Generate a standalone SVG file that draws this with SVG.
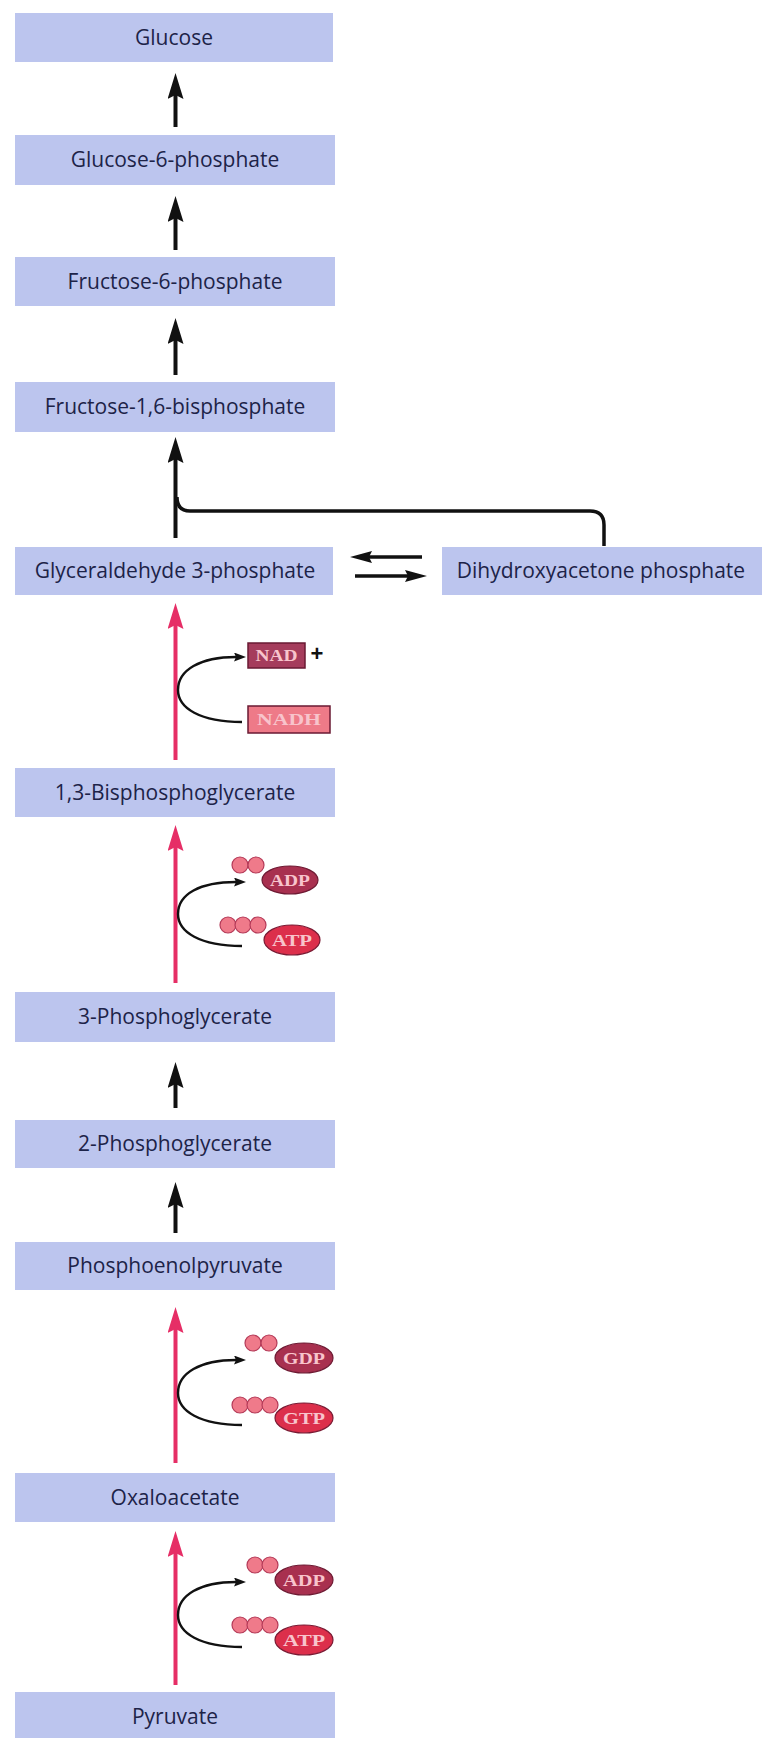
<svg xmlns="http://www.w3.org/2000/svg" width="766" height="1738" viewBox="0 0 766 1738">
  <style>
    .box { fill: #bcc5ee; }
    .lbl { font-family: "Open Sans", "Noto Sans", sans-serif; font-size: 21px; fill: #1d2348; text-anchor: middle; }
    .step { stroke: #111; stroke-width: 4; fill: none; }
    .pink { stroke: #e62e66; stroke-width: 4; fill: none; }
    .curve { stroke: #111; stroke-width: 2.4; fill: none; }
    .eq { stroke: #111; stroke-width: 3.5; fill: none; }
    .pbead { fill: #ef7a8a; stroke: #b43a58; stroke-width: 1.2; }
    .dip { fill: #a8304f; stroke: #6e1a33; stroke-width: 1.2; }
    .trip { fill: #dc2f4b; stroke: #7a1a33; stroke-width: 1.2; }
    .tok { font-family: "Liberation Serif", serif; font-size: 16px; font-weight: bold; fill: #f8c4cc; text-anchor: middle; }
  </style>
  <defs>
    <marker id="headBlack" viewBox="0 0 26 16" refX="6" refY="8" markerWidth="26" markerHeight="16" markerUnits="userSpaceOnUse" orient="auto">
      <path d="M0,0 L26,8 L0,16 L4,8 Z" fill="#111"/>
    </marker>
    <marker id="headPink" viewBox="0 0 26 16" refX="6" refY="8" markerWidth="26" markerHeight="16" markerUnits="userSpaceOnUse" orient="auto">
      <path d="M0,0 L26,8 L0,16 L4,8 Z" fill="#e62e66"/>
    </marker>
    <marker id="headSmall" viewBox="0 0 12 9" refX="2" refY="4.5" markerWidth="12" markerHeight="9" markerUnits="userSpaceOnUse" orient="auto">
      <path d="M0,0 L12,4.5 L0,9 L2,4.5 Z" fill="#111"/>
    </marker>
    <marker id="headEq" viewBox="0 0 22 12" refX="4" refY="6" markerWidth="22" markerHeight="12" markerUnits="userSpaceOnUse" orient="auto">
      <path d="M0,0 L22,6 L0,12 L3,6 Z" fill="#111"/>
    </marker>
  </defs>

  <rect width="766" height="1738" fill="#ffffff"/>

  <!-- metabolite boxes -->
  <g id="glucose"><rect class="box" x="15" y="13" width="318" height="49"/><text class="lbl" x="174" y="45">Glucose</text></g>
  <g id="glucose-6-phosphate"><rect class="box" x="15" y="135" width="320" height="50"/><text class="lbl" x="175" y="167">Glucose-6-phosphate</text></g>
  <g id="fructose-6-phosphate"><rect class="box" x="15" y="257" width="320" height="49"/><text class="lbl" x="175" y="289">Fructose-6-phosphate</text></g>
  <g id="fructose-1-6-bisphosphate"><rect class="box" x="15" y="382" width="320" height="50"/><text class="lbl" x="175" y="414">Fructose-1,6-bisphosphate</text></g>
  <g id="glyceraldehyde-3-phosphate"><rect class="box" x="15" y="547" width="318" height="48"/><text class="lbl" x="175" y="578">Glyceraldehyde 3-phosphate</text></g>
  <g id="dihydroxyacetone-phosphate"><rect class="box" x="442" y="547" width="320" height="48"/><text class="lbl" x="601" y="578">Dihydroxyacetone phosphate</text></g>
  <g id="bisphosphoglycerate"><rect class="box" x="15" y="768" width="320" height="49"/><text class="lbl" x="175" y="800">1,3-Bisphosphoglycerate</text></g>
  <g id="phosphoglycerate-3"><rect class="box" x="15" y="992" width="320" height="50"/><text class="lbl" x="175" y="1024">3-Phosphoglycerate</text></g>
  <g id="phosphoglycerate-2"><rect class="box" x="15" y="1120" width="320" height="48"/><text class="lbl" x="175" y="1151">2-Phosphoglycerate</text></g>
  <g id="phosphoenolpyruvate"><rect class="box" x="15" y="1242" width="320" height="48"/><text class="lbl" x="175" y="1273">Phosphoenolpyruvate</text></g>
  <g id="oxaloacetate"><rect class="box" x="15" y="1473" width="320" height="49"/><text class="lbl" x="175" y="1505">Oxaloacetate</text></g>
  <g id="pyruvate"><rect class="box" x="15" y="1692" width="320" height="50"/><text class="lbl" x="175" y="1724">Pyruvate</text></g>

  <!-- cofactor tokens -->
  <g id="nad-plus">
    <rect x="248" y="643" width="57" height="25" fill="#a53c5c" stroke="#6a1a33" stroke-width="1.5"/>
    <text class="tok" x="276.5" y="661" textLength="42" lengthAdjust="spacingAndGlyphs">NAD</text>
    <text x="317" y="661" font-family="Liberation Sans, sans-serif" font-size="22" font-weight="bold" fill="#111" text-anchor="middle">+</text>
  </g>
  <g id="nadh">
    <rect x="248" y="706" width="82" height="27" fill="#ee7a88" stroke="#6a1a33" stroke-width="1.5"/>
    <text class="tok" x="289" y="725" textLength="64" lengthAdjust="spacingAndGlyphs">NADH</text>
  </g>

  <g id="adp-1">
    <circle class="pbead" cx="240" cy="865" r="8"/><circle class="pbead" cx="256" cy="865" r="8"/>
    <ellipse class="dip" cx="290" cy="880" rx="28" ry="14"/>
    <text class="tok" x="290" y="886" textLength="40" lengthAdjust="spacingAndGlyphs">ADP</text>
  </g>
  <g id="atp-1">
    <circle class="pbead" cx="228" cy="925" r="8"/><circle class="pbead" cx="243" cy="925" r="8"/><circle class="pbead" cx="258" cy="925" r="8"/>
    <ellipse class="trip" cx="292" cy="940" rx="28" ry="15"/>
    <text class="tok" x="292" y="946" textLength="40" lengthAdjust="spacingAndGlyphs">ATP</text>
  </g>
  <g id="gdp">
    <circle class="pbead" cx="253" cy="1343" r="8"/><circle class="pbead" cx="269" cy="1343" r="8"/>
    <ellipse class="dip" cx="304" cy="1358" rx="29" ry="15"/>
    <text class="tok" x="304" y="1364" textLength="42" lengthAdjust="spacingAndGlyphs">GDP</text>
  </g>
  <g id="gtp">
    <circle class="pbead" cx="240" cy="1405" r="8"/><circle class="pbead" cx="255" cy="1405" r="8"/><circle class="pbead" cx="270" cy="1405" r="8"/>
    <ellipse class="trip" cx="304" cy="1418" rx="29" ry="15"/>
    <text class="tok" x="304" y="1424" textLength="42" lengthAdjust="spacingAndGlyphs">GTP</text>
  </g>
  <g id="adp-2">
    <circle class="pbead" cx="255" cy="1565" r="8"/><circle class="pbead" cx="270" cy="1565" r="8"/>
    <ellipse class="dip" cx="304" cy="1580" rx="29" ry="15"/>
    <text class="tok" x="304" y="1586" textLength="42" lengthAdjust="spacingAndGlyphs">ADP</text>
  </g>
  <g id="atp-2">
    <circle class="pbead" cx="240" cy="1625" r="8"/><circle class="pbead" cx="255" cy="1625" r="8"/><circle class="pbead" cx="270" cy="1625" r="8"/>
    <ellipse class="trip" cx="304" cy="1640" rx="29" ry="15"/>
    <text class="tok" x="304" y="1646" textLength="42" lengthAdjust="spacingAndGlyphs">ATP</text>
  </g>

  <!-- connectors -->
  <g id="connectors">
    <!-- reversed glycolytic steps (black) -->
    <line class="step" x1="175.5" y1="127" x2="175.5" y2="93" marker-end="url(#headBlack)"/>
    <line class="step" x1="175.5" y1="250" x2="175.5" y2="216" marker-end="url(#headBlack)"/>
    <line class="step" x1="175.5" y1="375" x2="175.5" y2="338" marker-end="url(#headBlack)"/>
    <line class="step" x1="175.5" y1="538" x2="175.5" y2="457" marker-end="url(#headBlack)"/>
    <line class="step" x1="175.5" y1="1108" x2="175.5" y2="1082" marker-end="url(#headBlack)"/>
    <line class="step" x1="175.5" y1="1233" x2="175.5" y2="1202" marker-end="url(#headBlack)"/>
    <!-- DHAP joins the triose route -->
    <path class="eq" d="M604,546 L604,525 Q604,511 590,511 L190,511 Q177,511 177,497"/>
    <!-- triose phosphate isomerase equilibrium -->
    <line class="eq" x1="422" y1="557" x2="368" y2="557" marker-end="url(#headEq)"/>
    <line class="eq" x1="355" y1="576" x2="409" y2="576" marker-end="url(#headEq)"/>
    <!-- bypass / energy-coupled steps (pink) -->
    <line class="pink" x1="175.5" y1="760" x2="175.5" y2="623" marker-end="url(#headPink)"/>
    <line class="pink" x1="175.5" y1="983" x2="175.5" y2="845" marker-end="url(#headPink)"/>
    <line class="pink" x1="175.5" y1="1463" x2="175.5" y2="1327" marker-end="url(#headPink)"/>
    <line class="pink" x1="175.5" y1="1685" x2="175.5" y2="1551" marker-end="url(#headPink)"/>
    <!-- cofactor turnover curves -->
    <path class="curve" d="M242,722 C200,722 178,708 178,690 C178,670 200,657 236,657" marker-end="url(#headSmall)"/>
    <path class="curve" d="M242,946 C200,946 178,932 178,914 C178,894 200,882 236,882" marker-end="url(#headSmall)"/>
    <path class="curve" d="M242,1425 C200,1425 178,1411 178,1393 C178,1373 200,1360 236,1360" marker-end="url(#headSmall)"/>
    <path class="curve" d="M242,1647 C200,1647 178,1633 178,1615 C178,1595 200,1582 236,1582" marker-end="url(#headSmall)"/>
  </g>
</svg>
